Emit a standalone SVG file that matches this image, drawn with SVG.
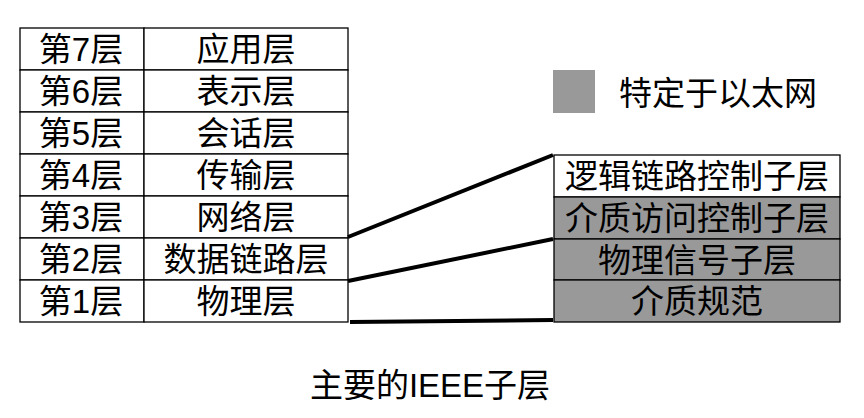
<svg xmlns="http://www.w3.org/2000/svg" width="864" height="418" viewBox="0 0 864 418">
<style>
.cell{fill:#fff;stroke:#000;stroke-width:1.3}
.g{fill:#999;stroke:#000;stroke-width:1.3}
text{font-family:"Liberation Sans","Noto Sans CJK SC",sans-serif;font-size:33px;text-anchor:middle;fill:#000}
.conn{stroke:#000;stroke-width:4;fill:none}
</style>
<rect width="864" height="418" fill="#fff"/>
<g id="osi">
<g id="l7"><rect class="cell" x="20" y="28" width="124" height="42"/><rect class="cell" x="144" y="28" width="204" height="42"/><text x="81" y="61">第7层</text><text x="246" y="61">应用层</text></g>
<g id="l6"><rect class="cell" x="20" y="70" width="124" height="42"/><rect class="cell" x="144" y="70" width="204" height="42"/><text x="81" y="103">第6层</text><text x="246" y="103">表示层</text></g>
<g id="l5"><rect class="cell" x="20" y="112" width="124" height="42"/><rect class="cell" x="144" y="112" width="204" height="42"/><text x="81" y="145">第5层</text><text x="246" y="145">会话层</text></g>
<g id="l4"><rect class="cell" x="20" y="154" width="124" height="42"/><rect class="cell" x="144" y="154" width="204" height="42"/><text x="81" y="187">第4层</text><text x="246" y="187">传输层</text></g>
<g id="l3"><rect class="cell" x="20" y="196" width="124" height="42"/><rect class="cell" x="144" y="196" width="204" height="42"/><text x="81" y="229">第3层</text><text x="246" y="229">网络层</text></g>
<g id="l2"><rect class="cell" x="20" y="238" width="124" height="42"/><rect class="cell" x="144" y="238" width="204" height="42"/><text x="81" y="271">第2层</text><text x="246" y="271">数据链路层</text></g>
<g id="l1"><rect class="cell" x="20" y="280" width="124" height="42"/><rect class="cell" x="144" y="280" width="204" height="42"/><text x="81" y="313">第1层</text><text x="246" y="313">物理层</text></g>
</g>
<g id="legend"><rect x="553" y="70" width="42" height="43" fill="#999"/><text x="718" y="105">特定于以太网</text></g>
<g id="ieee">
<g id="llc"><rect class="cell" x="554" y="155" width="286" height="42"/><text x="697" y="188">逻辑链路控制子层</text></g>
<g id="mac"><rect class="g" x="554" y="197" width="286" height="42"/><text x="697" y="230">介质访问控制子层</text></g>
<g id="pls"><rect class="g" x="554" y="239" width="286" height="41"/><text x="697" y="272">物理信号子层</text></g>
<g id="media"><rect class="g" x="554" y="280" width="286" height="42"/><text x="697" y="313">介质规范</text></g>
</g>
<g id="connectors">
<line class="conn" x1="348" y1="237" x2="553" y2="155"/>
<line class="conn" x1="348" y1="281" x2="553" y2="239"/>
<line class="conn" x1="350" y1="322" x2="553" y2="320"/>
</g>
<text id="caption" x="430" y="397">主要的IEEE子层</text>
</svg>
